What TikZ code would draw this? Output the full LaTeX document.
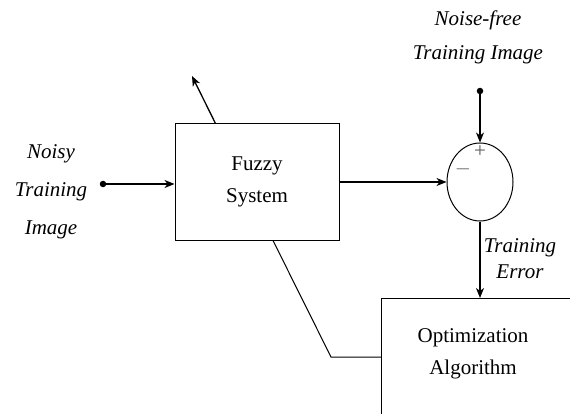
\documentclass[tikz,border=0pt]{standalone}
\usepackage{fontspec}
\setmainfont{Liberation Serif}
\usetikzlibrary{arrows.meta}
\usetikzlibrary{shapes.geometric}

\begin{document}
\begin{tikzpicture}[x = 1pt, y = -1pt]
	\tikzstyle{blockStyle} = [draw, line width = 1pt, inner sep = 0pt, align = center, font = \fontsize{21}{32}\selectfont]
	\tikzstyle{labelStyle} = [align = center, inner sep = 0pt, font = \fontsize{21}{38}\selectfont\itshape]
	\tikzstyle{signStyle} = [inner sep = 0pt, text = black!65, font = \fontsize{21}{21}\selectfont]
	\tikzstyle{dotStyle} = [shape = circle, fill, inner sep = 0pt, minimum size = 6.5pt]
	\tikzstyle{signalStyle} = [line width = 1.3pt, -{Stealth[length = 10pt, width = 8pt, inset = 3pt]}]
	\tikzstyle{lineStyle} = [line width = 1pt]
	\useasboundingbox (0,0) rectangle (570,414);
	% blocks
	\node[blockStyle, minimum width = 164pt, minimum height = 116pt] (fuzzy) at (257,182) {Fuzzy\\System};
	\node[draw, shape = ellipse, line width = 1pt, inner sep = 0pt, minimum width = 66pt, minimum height = 78pt] (sum) at (480,182) {};
	\node[blockStyle, anchor = north west, minimum width = 220pt, minimum height = 140pt] (optim) at (381,298) {};
	\node[blockStyle, draw = none, align = center] (optimText) at (473,353.5) {Optimization\\Algorithm};
	% signs
	\node[signStyle] (plus) at (480,152) {+};
	\node[signStyle] (minus) at (463,169) {$-$};
	% inputs
	\node[dotStyle] (noisy) at (103,184) {};
	\node[dotStyle] (clean) at (480,91) {};
	\node[labelStyle] (noisyLabel) at (51,192) {Noisy\\Training\\Image};
	\node[labelStyle, font = \fontsize{21}{34}\selectfont\itshape] (cleanLabel) at (478,37) {Noise-free\\Training Image};
	\node[labelStyle, font = \fontsize{21}{26}\selectfont\itshape] (errorLabel) at (520,259) {Training\\Error};
	\coordinate (param) at (192,76);
	\coordinate (bend) at (331,357);
	% connectors
	\draw[signalStyle] (noisy) -- (noisy -| fuzzy.west);
	\draw[signalStyle] ([xshift = 41pt]fuzzy.north west) -- (param);
	\draw[signalStyle] (fuzzy) -- (sum);
	\draw[signalStyle] (clean) -- (sum.north);
	\draw[signalStyle] (sum.south) -- (sum.south |- optim.north);
	\draw[lineStyle] ([xshift = 16pt]fuzzy.south) -- (bend) -- (bend -| optim.west);
\end{tikzpicture}
\end{document}
